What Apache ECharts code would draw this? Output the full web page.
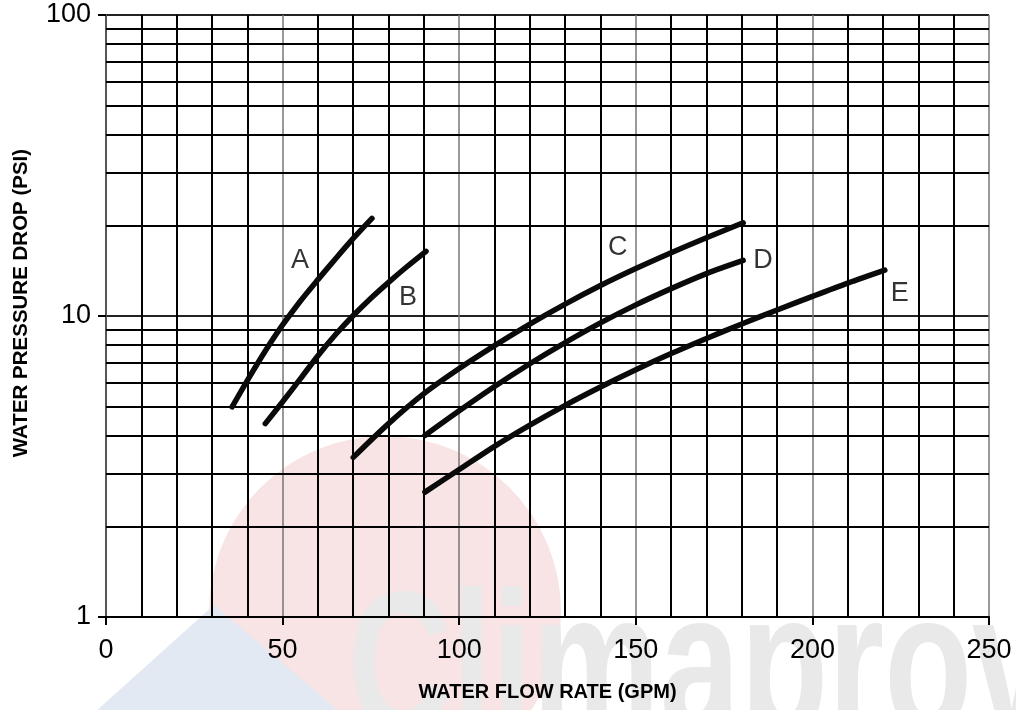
<!DOCTYPE html>
<html>
<head>
<meta charset="utf-8">
<script src="https://cdn.jsdelivr.net/npm/echarts@6/dist/echarts.min.js"></script>
<style>
html,body{margin:0;padding:0;background:#fff;}
#chart{width:1016px;height:710px;}
</style>
</head>
<body>
<div id="chart"></div>
<script>
// ---- Data ----
var curveA = [[35.7,4.99],[40,6.10],[45,7.62],[50,9.34],[55,11.2],[60,13.21],[65,15.5],[70,18.1],[75.3,21.1]];
var curveB = [[45.1,4.39],[50,5.19],[55,6.18],[60,7.38],[65,8.68],[70,10.04],[75,11.46],[80,12.94],[85,14.52],[90.6,16.4]];
var curveC = [[70,3.39],[80,4.39],[90,5.52],[100,6.69],[110,7.97],[120,9.40],[130,10.95],[140,12.62],[150,14.37],[160,16.22],[170,18.19],[180.4,20.4]];
var curveD = [[90.3,4.01],[100,4.84],[110,5.83],[120,6.94],[130,8.16],[140,9.49],[150,10.89],[160,12.33],[170,13.83],[180.4,15.3]];
var curveE = [[90.3,2.60],[100,3.09],[110,3.69],[120,4.34],[130,5.05],[140,5.81],[150,6.63],[160,7.50],[170,8.42],[180,9.41],[190,10.47],[200,11.62],[210,12.86],[220.5,14.2]];
var curveNames = ['A','B','C','D','E'];
var curveLabelPoints = [[54.9,15.3],[85.5,11.54],[144.9,16.9],[186,15.3],[224.7,11.9]];
var yMinorGrid = [2,3,4,5,6,7,8,9,20,30,40,50,60,70,80,90];
var xTitle = 'WATER FLOW RATE (GPM)';
var yTitle = 'WATER PRESSURE DROP (PSI)';
var watermarkText = 'Climaproven';

var curves = [curveA, curveB, curveC, curveD, curveE];

var series = curves.map(function(c, i){
  return {
    type:'line', name:curveNames[i], data:c, smooth:0.3, symbol:'none',
    lineStyle:{color:'#0a0a0a', width:5.5, cap:'round'}, z:5, silent:true
  };
});
series.push({
  type:'line', data:[], silent:true, symbol:'none',
  markLine:{
    silent:true, symbol:['none','none'], label:{show:false},
    lineStyle:{color:'#000', width:2, type:'solid'},
    data: yMinorGrid.map(function(v){ return {yAxis:v}; })
  },
  z:2
});
series.push({
  type:'scatter', silent:true, symbolSize:0, z:6,
  data: curveLabelPoints.map(function(p,i){ return {value:p, name:curveNames[i]}; }),
  label:{show:true, position:'inside', formatter:'{b}', color:'#000',
         fontSize:27, fontFamily:'Liberation Sans, Arial, sans-serif'}
});

var chart = echarts.init(document.getElementById('chart'), null, {renderer:'canvas'});
chart.setOption({
  backgroundColor:'#fff',
  animation:false,
  graphic:[
    {type:'circle', shape:{cx:385, cy:612, r:176}, style:{fill:'#f8e4e4'}, z:-100, silent:true},
    {type:'polygon', shape:{points:[[214,605],[95,712],[340,712]]}, style:{fill:'#e3e9f3'}, z:-99, silent:true},
    {type:'text', x:348, y:676, scaleX:0.72, scaleY:1, silent:true, z:-98,
      style:{text:watermarkText, x:0, y:0, verticalAlign:'middle',
      font:'bold 200px "Liberation Sans Narrow", "Liberation Sans", Arial', fill:'#e9e9e9'}}
  ],
  grid:{left:106, right:27, top:15, bottom:93, containLabel:false, outerBoundsMode:'none'},
  xAxis:{
    type:'value', min:0, max:250, interval:50,
    name:xTitle, nameLocation:'middle', nameGap:65,
    nameTextStyle:{fontSize:20, fontWeight:'bold', color:'#000', fontFamily:'Liberation Sans, Arial, sans-serif'},
    axisLine:{show:true, lineStyle:{color:'#000', width:2}},
    axisTick:{show:true, length:8, lineStyle:{color:'#000', width:2}},
    axisLabel:{fontSize:27, color:'#000', margin:20, fontFamily:'Liberation Sans, Arial, sans-serif'},
    splitLine:{show:true, lineStyle:{color:'#777', width:1.5}},
    minorTick:{show:false, splitNumber:5},
    minorSplitLine:{show:true, lineStyle:{color:'#000', width:2}}
  },
  yAxis:{
    type:'log', logBase:10, min:1, max:100,
    name:yTitle, nameLocation:'middle', nameGap:74,
    nameTextStyle:{fontSize:20.5, fontWeight:'bold', color:'#000', fontFamily:'Liberation Sans, Arial, sans-serif',
                   padding:[0,0,0,26]},
    axisLine:{show:true, lineStyle:{color:'#555', width:2}},
    axisTick:{show:true, length:8, lineStyle:{color:'#000', width:2}},
    axisLabel:{fontSize:27, color:'#000', margin:15, fontFamily:'Liberation Sans, Arial, sans-serif'},
    splitLine:{show:true, lineStyle:{color:'#222', width:2}}
  },
  series:series
});
</script>
</body>
</html>
